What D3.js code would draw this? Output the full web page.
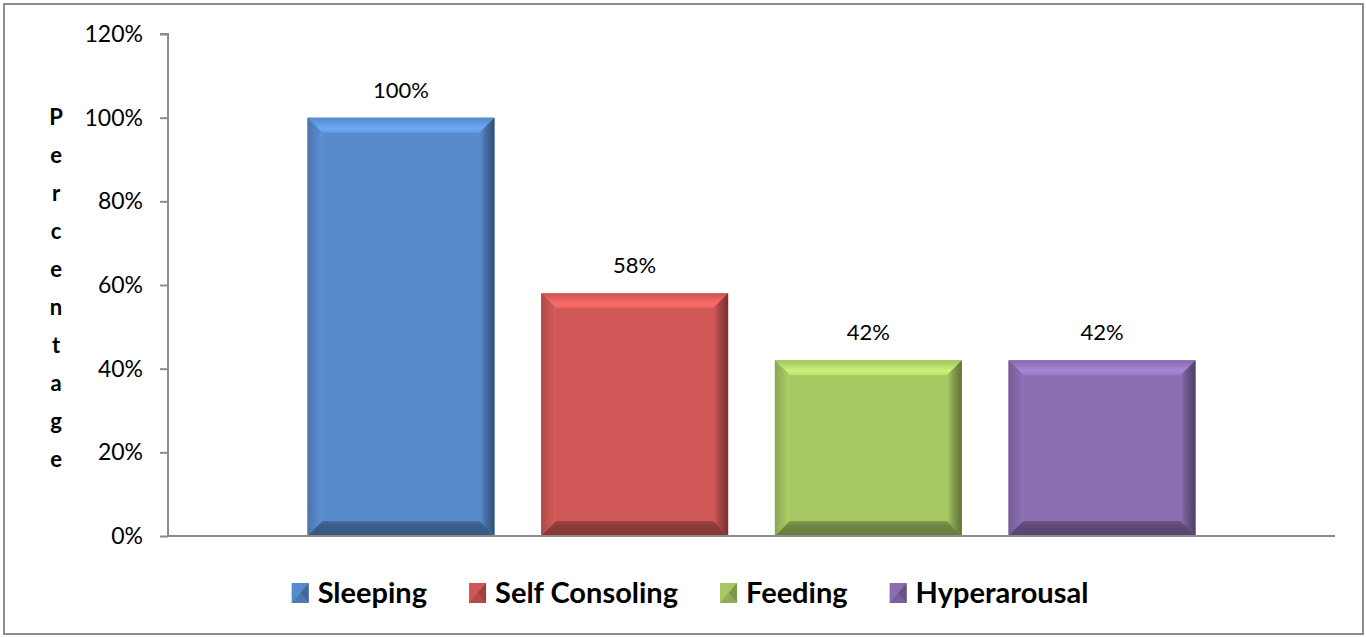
<!DOCTYPE html>
<html>
<head>
<meta charset="utf-8">
<script src="https://cdn.jsdelivr.net/npm/d3@7/dist/d3.min.js"></script>
<style>
  html, body { margin: 0; padding: 0; background: #fff; }
  svg { display: block; }
</style>
</head>
<body>
<svg id="chart" width="1366" height="637"></svg>
<script>
// Share of infants showing each kind of difficulty
const categories = ["Sleeping", "Self Consoling", "Feeding", "Hyperarousal"];
const values = [1.00, 0.58, 0.42, 0.42];
const colors = ["#588bcc", "#cf5755", "#a6c762", "#8a6db0"];
const yTicks = [0, 0.2, 0.4, 0.6, 0.8, 1.0, 1.2];
const yTitle = "Percentage";

const svg = d3.select("#chart");
const font = "Lato, 'Open Sans', sans-serif";

// outer frame
svg.append("rect")
  .attr("x", 4).attr("y", 4).attr("width", 1359).attr("height", 630)
  .attr("fill", "#fff").attr("stroke", "#8c8c8c").attr("stroke-width", 2);

const plot = { left: 168, right: 1335, top: 34, bottom: 536 };

const y = d3.scaleLinear().domain([0, 1.2]).range([plot.bottom, plot.top]);
const x = d3.scaleBand().domain(categories)
  .range([plot.left, plot.right])
  .paddingInner(0.2).paddingOuter(0.597);

// y axis
const yAxis = d3.axisLeft(y).tickValues(yTicks).tickFormat(d3.format(".0%"))
  .tickSize(8).tickPadding(17);
const gy = svg.append("g").attr("transform", `translate(${plot.left},0)`).call(yAxis);
gy.select(".domain").attr("stroke", "#8c8c8c").attr("stroke-width", 2)
  .attr("d", `M-8,${plot.top}H0V${plot.bottom}`);
gy.selectAll(".tick line").attr("stroke", "#8c8c8c").attr("stroke-width", 2);
gy.selectAll(".tick text").attr("font-family", font).attr("font-size", 23)
  .attr("fill", "#000");

// stacked vertical axis title
const letters = yTitle.split("");
svg.append("g").selectAll("text").data(letters).enter().append("text")
  .attr("x", 56).attr("y", (d, i) => 125 + i * 38)
  .attr("text-anchor", "middle")
  .attr("font-family", font).attr("font-weight", "bold").attr("font-size", 22)
  .attr("fill", "#000")
  .text(d => d);

// bevel gradients per colour
const defs = svg.append("defs");
function grad(id, x1, y1, x2, y2, stops) {
  const g = defs.append("linearGradient").attr("id", id)
    .attr("x1", x1).attr("y1", y1).attr("x2", x2).attr("y2", y2);
  stops.forEach(s => g.append("stop").attr("offset", s[0]).attr("stop-color", s[1]));
}
colors.forEach((c, i) => {
  const base = d3.color(c);
  grad(`top${i}`, 0, 0, 0, 1, [[0, base.darker(0.05)], [0.7, base.brighter(0.55)], [1, base.brighter(0.3)]]);
  grad(`left${i}`, 0, 0, 1, 0, [[0, base.darker(0.5)], [0.6, base.darker(0.1)], [1, base.brighter(0.15)]]);
  grad(`right${i}`, 0, 0, 1, 0, [[0, base.brighter(0.1)], [0.4, base.darker(0.6)], [1, base.darker(1.6)]]);
  grad(`bottom${i}`, 0, 0, 0, 1, [[0, base.darker(0.7)], [0.3, base.darker(1.1)], [1, base.darker(1.3)]]);
});

// bars with bevelled edges
const b = 15;
const bars = svg.append("g").selectAll("g").data(categories).enter().append("g");
bars.each(function (cat, i) {
  const g = d3.select(this);
  const x0 = x(cat), x1 = x0 + x.bandwidth();
  const y0 = y(values[i]), y1 = y(0);
  g.append("rect").attr("x", x0).attr("y", y0)
    .attr("width", x1 - x0).attr("height", y1 - y0).attr("fill", colors[i]);
  const poly = (pts, fill) => g.append("polygon")
    .attr("points", pts.map(p => p.join(",")).join(" ")).attr("fill", fill);
  poly([[x0, y0], [x1, y0], [x1 - b, y0 + b], [x0 + b, y0 + b]], `url(#top${i})`);
  poly([[x0, y0], [x0 + b, y0 + b], [x0 + b, y1 - b], [x0, y1]], `url(#left${i})`);
  poly([[x1, y0], [x1, y1], [x1 - b, y1 - b], [x1 - b, y0 + b]], `url(#right${i})`);
  poly([[x0, y1], [x0 + b, y1 - b], [x1 - b, y1 - b], [x1, y1]], `url(#bottom${i})`);
});

// value labels
svg.append("g").selectAll("text").data(categories).enter().append("text")
  .attr("x", d => x(d) + x.bandwidth() / 2)
  .attr("y", (d, i) => y(values[i]) - 20)
  .attr("text-anchor", "middle")
  .attr("font-family", font).attr("font-size", 22).attr("fill", "#000")
  .text((d, i) => d3.format(".0%")(values[i]));

// x axis baseline
svg.append("line")
  .attr("x1", plot.left).attr("x2", plot.right)
  .attr("y1", plot.bottom).attr("y2", plot.bottom)
  .attr("stroke", "#8c8c8c").attr("stroke-width", 2);

// legend
const legend = svg.append("g");
const items = legend.selectAll("g").data(categories).enter().append("g");
items.each(function (cat, i) {
  const g = d3.select(this);
  const base = d3.color(colors[i]);
  const w = 17, h = 20;
  g.append("rect").attr("x", 0).attr("y", -h / 2).attr("width", w).attr("height", h)
    .attr("fill", colors[i]);
  g.append("polygon")
    .attr("points", `${w},${-h / 2} ${w},${h / 2} ${w / 2},0`)
    .attr("fill", base.darker(0.8));
  g.append("polygon")
    .attr("points", `0,${h / 2} ${w},${h / 2} ${w / 2},0`)
    .attr("fill", base.darker(0.4));
  g.append("text").attr("x", w + 9).attr("y", 0).attr("dy", "0.35em")
    .attr("font-family", font).attr("font-weight", "bold").attr("font-size", 29)
    .attr("fill", "#000").text(cat);
});
let lx = 0;
const widths = [];
items.each(function () { widths.push(this.getBBox().width); });
const gap = 42;
const total = d3.sum(widths) + gap * (widths.length - 1);
lx = 690 - total / 2;
items.attr("transform", (d, i) => {
  const t = `translate(${lx},593)`;
  lx += widths[i] + gap;
  return t;
});
</script>
</body>
</html>
